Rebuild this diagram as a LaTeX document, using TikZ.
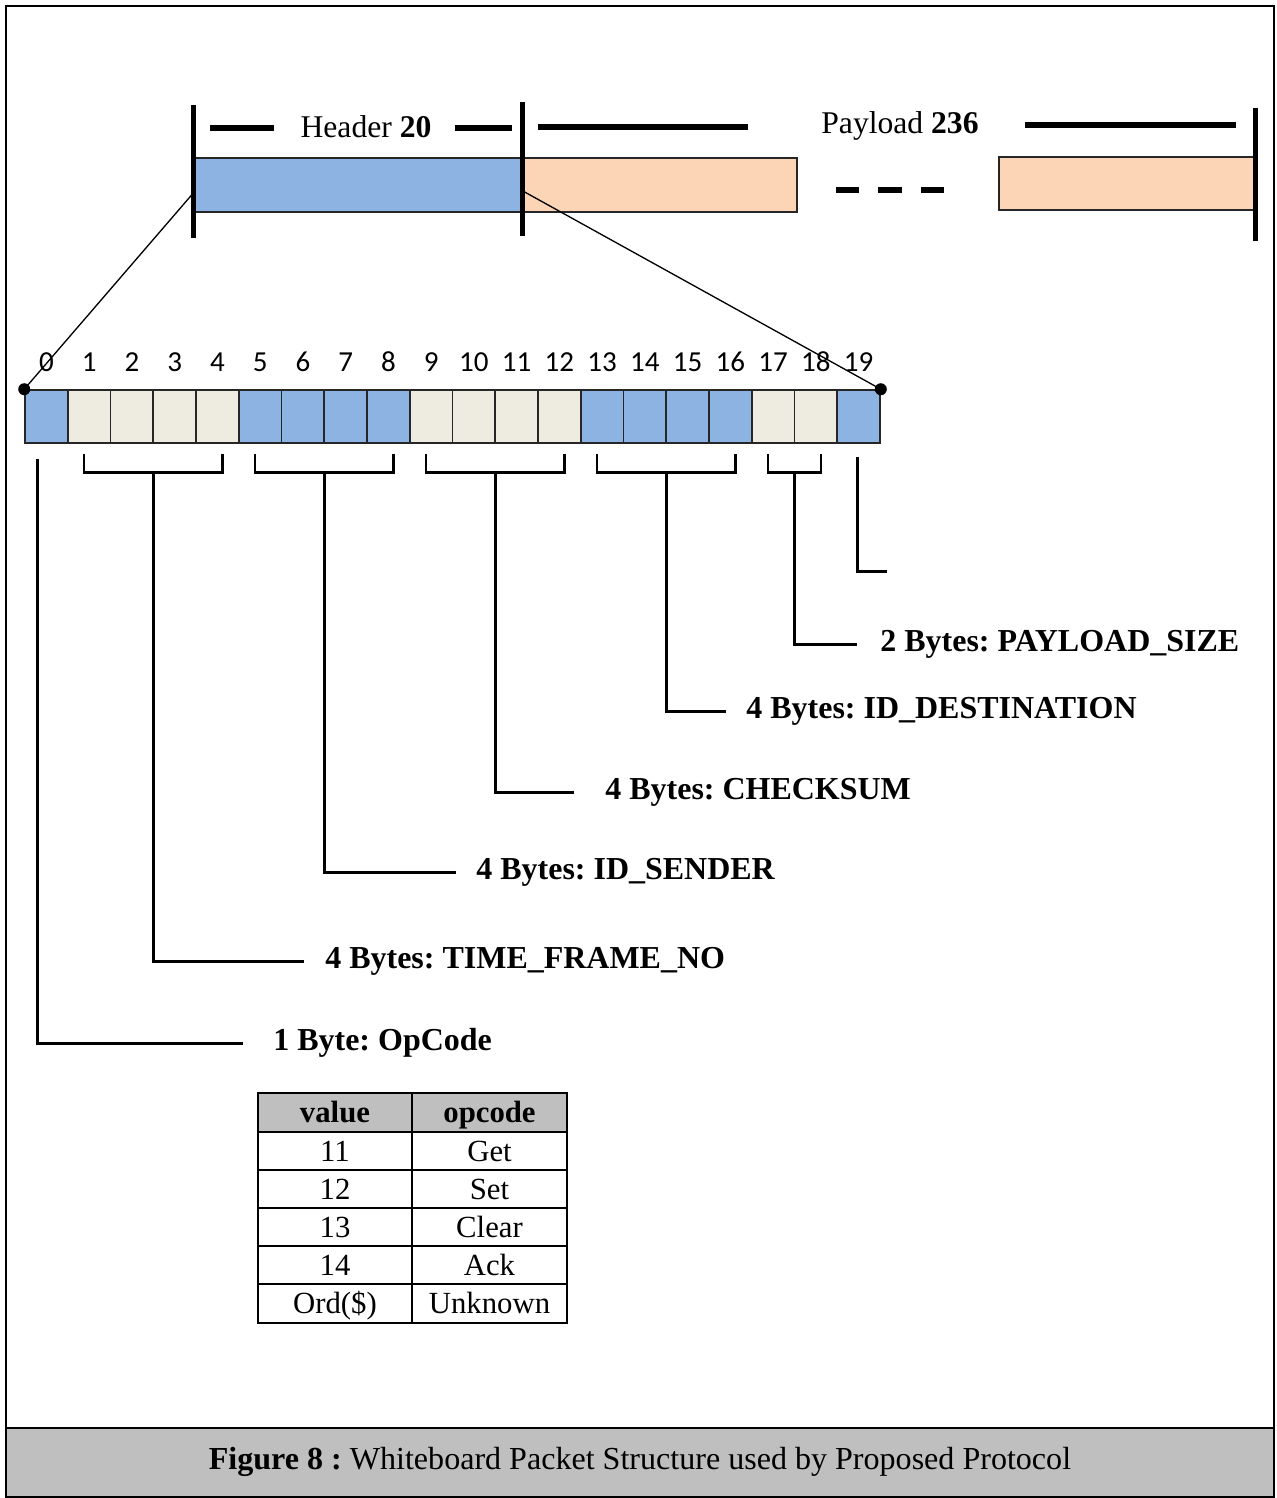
\documentclass[tikz,border=0pt]{standalone}
\usepackage{fontspec}
\setmainfont{Liberation Serif}
\newfontfamily\numfont{Carlito}
\usepackage{tikz}
\usetikzlibrary{calc}
\frenchspacing
\definecolor{hdrblue}{HTML}{8DB3E2}
\definecolor{paypeach}{HTML}{FBD5B5}
\definecolor{bytebeige}{HTML}{EEECE1}
\definecolor{capgray}{HTML}{BFBFBF}
\tikzset{
  segbox/.style={
    rectangle, draw=black!85, line width=0.8pt,
    minimum height=1.08cm, inner sep=0pt
  },
  bytebox/.style={
    rectangle, draw=black!85, line width=0.9pt,
    minimum width=0.855cm, minimum height=1.06cm, inner sep=0pt
  },
  num/.style={font=\numfont\fontsize{16.5}{18}\selectfont, inner sep=0pt},
  dot/.style={circle, fill=black, inner sep=0pt, minimum size=0.24cm},
  bar/.style={line width=2.8pt},
  dimln/.style={line width=3pt},
  brk/.style={line width=1.6pt},
  lead/.style={line width=1.7pt},
  zoomln/.style={line width=0.75pt},
  lbl/.style={anchor=west, inner sep=0pt, font=\fontsize{18.2}{20}\selectfont\bfseries},
  tcell/.style={
    rectangle, draw=black, line width=1.1pt,
    minimum width=3.09cm, minimum height=0.764cm, inner sep=0pt,
    text height=14pt, text depth=2.2pt,
    font=\fontsize{17.5}{20}\selectfont
  },
  thead/.style={tcell, fill=capgray, font=\fontsize{17.5}{20}\selectfont\bfseries},
}

\begin{document}
\begin{tikzpicture}[x=0.02cm, y=-0.02cm]
  \useasboundingbox (0,0) rectangle (1276,1498);
  \fill[capgray] (6,1428) rectangle (1274,1497);
  \draw[line width=0.9pt] (6,6) rectangle (1274,1497);
  \draw[line width=1.6pt] (6,1428) -- (1274,1428);
  \node[font=\fontsize{18.25}{20}\selectfont] (cap) at (640,1462)
    {\textbf{Figure 8 :} Whiteboard Packet Structure used by Proposed Protocol};

  \node[segbox, fill=hdrblue, minimum width=6.56cm] (hdr) at (358,185) {};
  \node[segbox, fill=paypeach, minimum width=5.5cm] (pay1) at (659.5,185) {};
  \node[segbox, fill=paypeach, minimum width=5.1cm, minimum height=1.06cm] (pay2) at (1126.5,183.5) {};
  \draw[bar] ($(hdr.west)+(0,-80)$) -- ($(hdr.west)+(0,53)$);
  \draw[bar] ($(hdr.east)+(0,-83)$) -- ($(hdr.east)+(0,51)$);
  \draw[bar] ($(pay2.east)+(1,-76)$) -- ($(pay2.east)+(1,57)$);
  \draw[dimln, dash pattern=on 13.3pt off 10.8pt] (836,190) -- (944.5,190);

  \node[font=\fontsize{18}{20}\selectfont] (hlbl) at (366,127) {Header \textbf{20}};
  \node[font=\fontsize{18}{20}\selectfont] (plbl) at (900,126) {Payload \textbf{236}};
  \draw[dimln] (210,128) -- (274,128);
  \draw[dimln] (455,128) -- (512,128);
  \draw[dimln] (538,127) -- (748,127);
  \draw[dimln] (1025,125) -- (1236,125);

  \foreach \c [count=\i from 0] in {hdrblue,bytebeige,bytebeige,bytebeige,bytebeige,
      hdrblue,hdrblue,hdrblue,hdrblue,bytebeige,bytebeige,bytebeige,bytebeige,
      hdrblue,hdrblue,hdrblue,hdrblue,bytebeige,bytebeige,hdrblue} {
    \node[bytebox, fill=\c] (b\i) at ({46.4+42.75*\i},416.5) {};
    \node[num] (n\i) at ({46.4+42.75*\i},362) {\i};
  }
  \node[dot] (d0) at (b0.north west) {};
  \node[dot] (d19) at (b19.north east) {};
  \draw[zoomln] ($(hdr.west)+(0,8)$) -- (d0.center);
  \draw[zoomln] ($(hdr.east)+(2,7)$) -- (d19.center);

  \foreach \a/\b/\k in {1/4/1, 5/8/2, 9/12/3, 13/16/4, 17/18/5} {
    \draw[brk] ($(b\a.south west)+(17,10)$) -- ++(0,19) -| ($(b\b.south east)+(-17,10)$);
    \coordinate (m\k) at ($(b\a.south west)!0.5!(b\b.south east)+(0,29)$);
  }

  \node[lbl] (l0) at (273,1043) {1 Byte: OpCode};
  \node[lbl] (l1) at (325,961) {4 Bytes: TIME\_FRAME\_NO};
  \node[lbl] (l2) at (476,872) {4 Bytes: ID\_SENDER};
  \node[lbl] (l3) at (605,792) {4 Bytes: CHECKSUM};
  \node[lbl] (l4) at (746,711) {4 Bytes: ID\_DESTINATION};
  \node[lbl] (l5) at (880,644) {2 Bytes: PAYLOAD\_SIZE};
  \coordinate (e19) at (887,571);

  \draw[lead] ($(b0.south)+(-9,15)$) |- ($(l0.west)+(-30,0)$);
  \draw[lead] (m1) |- ($(l1.west)+(-21,0)$);
  \draw[lead] (m2) |- ($(l2.west)+(-20,0)$);
  \draw[lead] (m3) |- ($(l3.west)+(-31,0)$);
  \draw[lead] (m4) |- ($(l4.west)+(-20,0)$);
  \draw[lead] (m5) |- ($(l5.west)+(-23,0)$);
  \draw[lead] ($(b19.south)+(-1,13)$) |- (e19);

  \node[thead] (tv0) at (335,1112.5) {value};
  \node[thead] (to0) at (489.5,1112.5) {opcode};
  \foreach \v/\o [count=\r] in {11/Get, 12/Set, 13/Clear, 14/Ack, Ord(\$)/Unknown} {
    \node[tcell] (tv\r) at (335,{1112.5+38.2*\r}) {\v};
    \node[tcell] (to\r) at (489.5,{1112.5+38.2*\r}) {\o};
  }
\end{tikzpicture}
\end{document}
